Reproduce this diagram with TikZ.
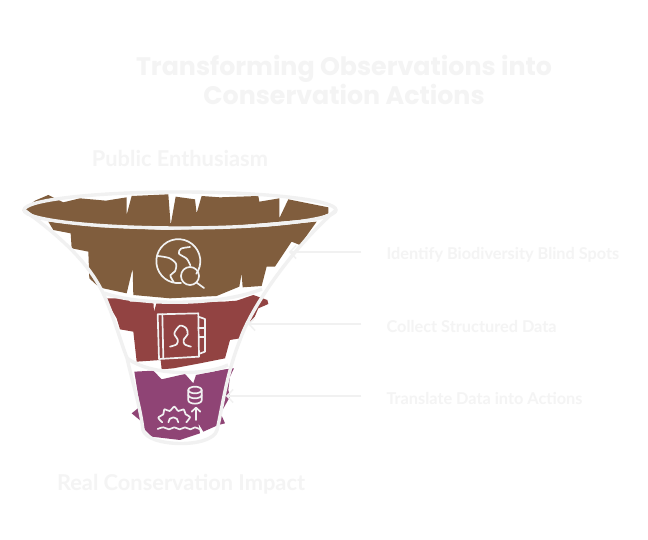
\documentclass[tikz,border=0pt]{standalone}
\usepackage{fontspec}
\setmainfont{Lato}
\newfontfamily\headfont{Poppins}
\usetikzlibrary{
	arrows.meta,
	positioning,
}
\definecolor{MyPale}{HTML}{f4f4f4}
\definecolor{MyRim}{HTML}{f1f1f1}
\definecolor{MyBrown}{HTML}{805d3d}
\definecolor{MyRed}{HTML}{924342}
\definecolor{MyPurple}{HTML}{8f4475}

\begin{document}
\begin{tikzpicture}[
		x=1pt, y=-1pt,
		title/.style = {text=MyPale, font=\headfont\bfseries\fontsize{25.3}{29}\selectfont, align=center},
		side/.style = {text=MyPale, font=\bfseries\fontsize{21.8}{25}\selectfont},
		step label/.style = {text=MyPale, anchor=west, font=\bfseries\fontsize{16.3}{19}\selectfont},
		leader/.style = {draw=MyRim, line width=1.5pt, shorten <=22pt, -{Straight Barb[length=6pt,width=13pt]}},
		rim/.style = {draw=MyRim, line width=3.4pt, line join=round},
		icon/.style = {draw=MyRim, line width=1.7pt, line cap=round, line join=round},
		zoomA/.style = {x=.3333pt, y=-.3333pt, shift={(0pt,-170pt)}},
		zoomB/.style = {x=.3333pt, y=-.3333pt, shift={(90pt,-280pt)}},
		iconA/.style = {x=.3333pt, y=-.3333pt, shift={(145pt,-232pt)}},
		iconB/.style = {x=.3333pt, y=-.3333pt, shift={(145pt,-305pt)}},
		iconC/.style = {x=.3333pt, y=-.3333pt, shift={(145pt,-375pt)}},
	]
	\fill[white] (0,0) rectangle (648,540);
	\useasboundingbox (0,0) rectangle (648,540);

	% layers of the funnel
	\begin{scope}[zoomA]
		\fill[MyBrown] (68,122) -- (105,92) -- (145,75) -- (190,97) -- (240,85) -- (318,92) -- (380,82)
			-- (380,135) -- (395,78) -- (505,73) -- (512,165) -- (527,80) -- (585,88) -- (590,130)
			-- (605,78) -- (660,82) -- (775,78) -- (778,95) -- (838,85) -- (838,145) -- (865,88)
			-- (985,112) -- (985,130) -- (950,145) -- (650,172) -- (300,172) -- (100,145) -- cycle;
		\fill[MyBrown] (145,155) -- (160,180) -- (212,190) -- (215,235) -- (265,245) -- (268,325)
			-- (290,345) -- (310,355) -- (380,370) -- (398,295) -- (400,375) -- (510,385) -- (650,378)
			-- (718,350) -- (725,310) -- (728,352) -- (785,348) -- (800,290) -- (825,290) -- (875,215)
			-- (900,225) -- (950,155) -- (800,170) -- (500,180) -- (300,172) -- cycle;
	\end{scope}
	\begin{scope}[zoomB]
		\fill[MyRed] (45,55) -- (110,55) -- (120,65) -- (190,65) -- (192,95) -- (200,68) -- (400,65)
			-- (440,62) -- (490,45) -- (532,60) -- (535,72) -- (505,85) -- (490,120) -- (470,130)
			-- (450,175) -- (420,180) -- (405,235) -- (330,250) -- (250,265) -- (215,268) -- (212,240)
			-- (140,245) -- (130,155) -- (90,148) -- (80,115) -- cycle;
		\fill[MyPurple] (133,275) -- (190,272) -- (215,298) -- (285,282) -- (310,310) -- (318,285)
			-- (405,268) -- (432,265) -- (420,290) -- (415,330) -- (420,350) -- (392,400) -- (405,430)
			-- (385,435) -- (340,455) -- (325,430) -- (330,460) -- (270,480) -- (185,470) -- (165,450)
			-- (155,425) -- (125,400) -- (150,380) -- cycle;
	\end{scope}

	% outline of the funnel
	\draw[rim] (180,210) ellipse [x radius=156, y radius=18];
	\draw[rim] (24,210) .. controls (65,240) and (90,265) .. (104,295)
		.. controls (115,320) and (120,340) .. (127,358)
		.. controls (133,385) and (140,405) .. (143,430)
		.. controls (147,447) and (212,449) .. (217,430)
		.. controls (222,410) and (226,375) .. (240,340)
		.. controls (250,310) and (290,250) .. (336,210);
	\draw[rim] (104,293) .. controls (140,306) and (220,306) .. (262,289);
	\draw[rim] (127,358) .. controls (150,376) and (205,376) .. (228,365);

	% globe and magnifier
	\begin{scope}[iconA]
		\draw[icon] (108,153) arc [start angle=83, end angle=395, radius=66];
		\draw[icon] (135,132) circle [radius=27];
		\draw[icon] (155,152) -- (177,168);
		\draw[icon] plot[smooth] coordinates {(38,72) (72,78) (93,95) (90,118) (76,130) (86,150)};
		\draw[icon] plot[smooth] coordinates {(135,45) (108,50) (102,65) (125,80) (136,100)};
	\end{scope}
	% address book
	\begin{scope}[iconB]
		\draw[icon] (38,28) -- (160,25) -- (162,155) -- (42,162) -- cycle;
		\draw[icon] (52,28) -- (55,160);
		\draw[icon] (160,35) -- (180,42) -- (180,140) -- (161,147);
		\draw[icon] (160,68) -- (180,68) (161,96) -- (180,96);
		\draw[icon] plot[smooth] coordinates {(75,125) (95,118) (98,104) (88,85) (105,62) (124,70) (128,88) (116,104) (119,118) (138,125)};
	\end{scope}
	% data and gear
	\begin{scope}[iconC]
		\draw[icon] (150,45) ellipse [x radius=20, y radius=10];
		\draw[icon] (130,45) -- (130,76) arc [start angle=180, end angle=0, x radius=20, y radius=10] -- (170,45);
		\draw[icon] (130,60) arc [start angle=180, end angle=0, x radius=20, y radius=10];
		\draw[icon] (153,135) -- (153,98) (140,110) -- (153,98) -- (166,110);
		\draw[icon] plot[smooth] coordinates {(52,142) (40,128) (55,118) (58,103) (74,108) (88,95) (100,108) (116,103) (122,118) (135,126) (124,142)};
		\draw[icon] (70,142) arc [start angle=180, end angle=360, x radius=15, y radius=15];
		\draw[icon] plot[smooth] coordinates {(38,162) (55,157) (72,163) (88,157) (104,163) (120,157) (136,163) (150,157) (165,163)};
	\end{scope}

	% texts
	\node[title] (heading) at (344,80) {Transforming Observations into\\Conservation Actions};
	\node[side] (top) at (180,158) {Public Enthusiasm};
	\node[side] (bottom) at (181,484) {Real Conservation Impact};

	\coordinate (tip1) at (289,252);
	\coordinate (tip2) at (248,324);
	\coordinate (tip3) at (226,396);
	\foreach \i [count=\j] in {Identify Biodiversity Blind Spots,Collect Structured Data,Translate Data into Actions} {
		\node[step label] (lbl\j) at (383,182.7+\j*72) {\i};
		\draw[leader] (lbl\j.west |- tip\j) -- (tip\j);
	}
\end{tikzpicture}
\end{document}
